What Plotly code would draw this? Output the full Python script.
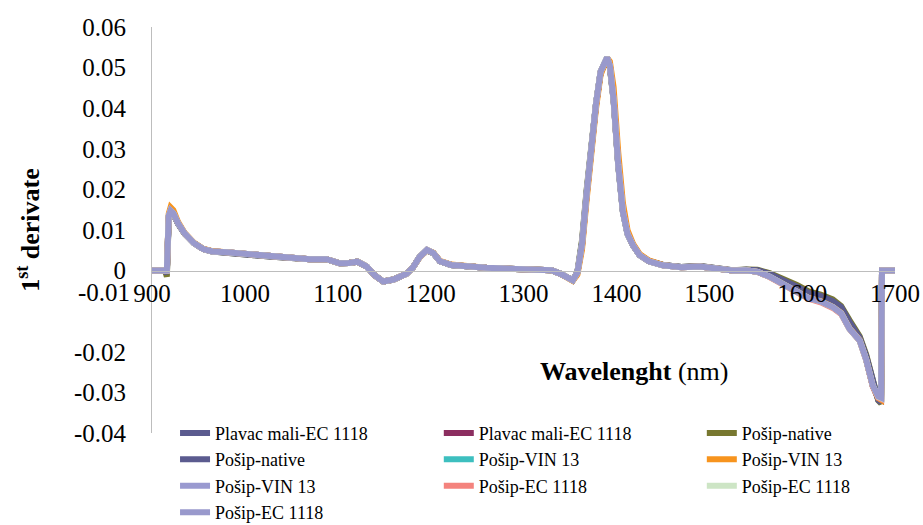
import plotly.graph_objects as go

# ---------------- data ----------------
wavelength = [900, 910, 914, 916, 918, 920, 923, 928, 935, 945, 955, 965, 980, 995, 1010, 1030, 1050, 1070,
              1088, 1102, 1112, 1121, 1131, 1140, 1149, 1160, 1174, 1181, 1188, 1196, 1203, 1210, 1222, 1239,
              1260, 1280, 1300, 1315, 1330, 1340, 1347, 1353, 1358, 1363, 1368, 1373, 1378, 1383, 1387, 1390,
              1393, 1397, 1402, 1407, 1412, 1418, 1425, 1435, 1450, 1470, 1490, 1510, 1525, 1540, 1552, 1565,
              1580, 1595, 1607, 1620, 1633, 1642, 1651, 1662, 1669, 1676, 1682, 1685, 1686, 1690, 1700]

plavac_ec_a = [0, 0, 0, 0, 0.0130, 0.0145, 0.0140, 0.0116, 0.0091, 0.0068, 0.0053, 0.0047, 0.0045, 0.0042, 0.0038,
               0.0034, 0.0030, 0.0028, 0.0028, 0.0018, 0.0019, 0.0022, 0.0010, -0.0012, -0.0027, -0.0022, -0.0008,
               0.0008, 0.0033, 0.0050, 0.0043, 0.0023, 0.0014, 0.0010, 0.0007, 0.0005, 0.0004, 0.0005, 0.0001,
               -0.0008, -0.0018, -0.0024, -0.0006, 0.0060, 0.0185, 0.0305, 0.0405, 0.0487, 0.0513, 0.0522, 0.0505,
               0.0425, 0.0265, 0.0150, 0.0092, 0.0063, 0.0039, 0.0024, 0.0014, 0.0009, 0.0010, 0.0004, 0.0000,
               0.0002, 0.0000, -0.0009, -0.0026, -0.0044, -0.0058, -0.0066, -0.0080, -0.0095, -0.0132, -0.0166,
               -0.0214, -0.0282, -0.0318, -0.0323, 0, 0, 0]
plavac_ec_b = [0, 0, 0, 0, 0.0133, 0.0147, 0.0141, 0.0117, 0.0092, 0.0068, 0.0053, 0.0047, 0.0045, 0.0042, 0.0038,
               0.0034, 0.0030, 0.0028, 0.0028, 0.0018, 0.0019, 0.0022, 0.0010, -0.0012, -0.0027, -0.0022, -0.0008,
               0.0008, 0.0033, 0.0051, 0.0043, 0.0023, 0.0014, 0.0010, 0.0007, 0.0005, 0.0004, 0.0005, 0.0001,
               -0.0008, -0.0018, -0.0024, -0.0005, 0.0063, 0.0188, 0.0308, 0.0408, 0.0489, 0.0514, 0.0523, 0.0505,
               0.0423, 0.0262, 0.0147, 0.0091, 0.0062, 0.0038, 0.0023, 0.0013, 0.0008, 0.0010, 0.0004, 0.0000,
               0.0001, -0.0003, -0.0014, -0.0032, -0.0050, -0.0066, -0.0074, -0.0088, -0.0103, -0.0141, -0.0171,
               -0.0219, -0.0284, -0.0314, -0.0318, 0, 0, 0]
posip_native_a = [0, 0, 0, -0.0015, 0.0125, 0.0142, 0.0139, 0.0116, 0.0091, 0.0068, 0.0053, 0.0047, 0.0045, 0.0042,
                  0.0038, 0.0034, 0.0030, 0.0028, 0.0028, 0.0018, 0.0019, 0.0022, 0.0010, -0.0012, -0.0027, -0.0022,
                  -0.0008, 0.0008, 0.0033, 0.0050, 0.0043, 0.0023, 0.0014, 0.0010, 0.0007, 0.0005, 0.0004, 0.0005,
                  0.0001, -0.0008, -0.0018, -0.0024, -0.0003, 0.0075, 0.0200, 0.0315, 0.0410, 0.0488, 0.0512, 0.0520,
                  0.0500, 0.0420, 0.0258, 0.0145, 0.0090, 0.0062, 0.0038, 0.0023, 0.0014, 0.0009, 0.0011, 0.0005,
                  0.0001, 0.0003, 0.0002, -0.0006, -0.0020, -0.0036, -0.0051, -0.0059, -0.0071, -0.0087, -0.0122,
                  -0.0162, -0.0207, -0.0273, -0.0320, -0.0327, 0, 0, 0]
posip_native_b = [0, 0, 0, -0.0008, 0.0128, 0.0144, 0.0140, 0.0116, 0.0091, 0.0068, 0.0053, 0.0047, 0.0045, 0.0042,
                  0.0038, 0.0034, 0.0030, 0.0028, 0.0028, 0.0018, 0.0019, 0.0022, 0.0010, -0.0012, -0.0027, -0.0022,
                  -0.0008, 0.0008, 0.0033, 0.0050, 0.0043, 0.0023, 0.0014, 0.0010, 0.0007, 0.0005, 0.0004, 0.0005,
                  0.0001, -0.0008, -0.0018, -0.0024, -0.0004, 0.0070, 0.0195, 0.0312, 0.0408, 0.0488, 0.0512, 0.0521,
                  0.0502, 0.0421, 0.0260, 0.0146, 0.0090, 0.0062, 0.0038, 0.0023, 0.0014, 0.0009, 0.0011, 0.0005,
                  0.0001, 0.0002, 0.0001, -0.0008, -0.0023, -0.0040, -0.0055, -0.0062, -0.0075, -0.0090, -0.0126,
                  -0.0165, -0.0210, -0.0276, -0.0319, -0.0325, 0, 0, 0]
posip_vin_a = [0, 0, 0, 0, 0.0135, 0.0149, 0.0142, 0.0117, 0.0092, 0.0068, 0.0053, 0.0047, 0.0045, 0.0042, 0.0038,
               0.0034, 0.0030, 0.0028, 0.0028, 0.0018, 0.0019, 0.0022, 0.0010, -0.0012, -0.0027, -0.0022, -0.0008,
               0.0008, 0.0033, 0.0051, 0.0043, 0.0023, 0.0014, 0.0010, 0.0007, 0.0005, 0.0004, 0.0005, 0.0001,
               -0.0008, -0.0018, -0.0024, -0.0005, 0.0065, 0.0190, 0.0310, 0.0410, 0.0490, 0.0515, 0.0525, 0.0507,
               0.0425, 0.0263, 0.0147, 0.0091, 0.0062, 0.0038, 0.0023, 0.0013, 0.0008, 0.0010, 0.0004, 0.0000,
               0.0001, -0.0003, -0.0015, -0.0033, -0.0052, -0.0068, -0.0076, -0.0090, -0.0105, -0.0143, -0.0172,
               -0.0220, -0.0283, -0.0311, -0.0315, 0, 0, 0]
posip_vin_b = [0, 0, 0, 0, 0.0140, 0.0156, 0.0149, 0.0120, 0.0093, 0.0069, 0.0054, 0.0048, 0.0045, 0.0042, 0.0038,
               0.0034, 0.0030, 0.0028, 0.0028, 0.0018, 0.0019, 0.0022, 0.0010, -0.0012, -0.0027, -0.0022, -0.0008,
               0.0008, 0.0032, 0.0050, 0.0044, 0.0024, 0.0015, 0.0010, 0.0007, 0.0005, 0.0004, 0.0005, 0.0001,
               -0.0008, -0.0018, -0.0025, -0.0010, 0.0052, 0.0175, 0.0295, 0.0398, 0.0482, 0.0512, 0.0524, 0.0515,
               0.0452, 0.0292, 0.0167, 0.0100, 0.0066, 0.0041, 0.0025, 0.0014, 0.0008, 0.0010, 0.0004, 0.0000,
               0.0001, -0.0003, -0.0015, -0.0033, -0.0052, -0.0067, -0.0075, -0.0089, -0.0104, -0.0142, -0.0171,
               -0.0219, -0.0283, -0.0314, -0.0318, 0, 0, 0]
posip_vin_c = [0, 0, 0, 0, 0.0135, 0.0148, 0.0141, 0.0117, 0.0092, 0.0068, 0.0053, 0.0047, 0.0045, 0.0042, 0.0038,
               0.0034, 0.0030, 0.0028, 0.0028, 0.0018, 0.0019, 0.0022, 0.0010, -0.0012, -0.0027, -0.0022, -0.0008,
               0.0008, 0.0033, 0.0051, 0.0043, 0.0023, 0.0014, 0.0010, 0.0007, 0.0005, 0.0004, 0.0005, 0.0001,
               -0.0008, -0.0018, -0.0024, -0.0005, 0.0065, 0.0190, 0.0310, 0.0410, 0.0490, 0.0515, 0.0525, 0.0505,
               0.0420, 0.0260, 0.0145, 0.0090, 0.0062, 0.0038, 0.0023, 0.0013, 0.0008, 0.0010, 0.0004, 0.0000,
               0.0001, -0.0003, -0.0015, -0.0033, -0.0052, -0.0068, -0.0076, -0.0090, -0.0105, -0.0143, -0.0172,
               -0.0220, -0.0283, -0.0310, -0.0313, 0, 0, 0]
posip_ec_a = [0, 0, 0, 0, 0.0134, 0.0148, 0.0141, 0.0117, 0.0092, 0.0068, 0.0053, 0.0047, 0.0045, 0.0042, 0.0038,
              0.0034, 0.0030, 0.0028, 0.0028, 0.0018, 0.0019, 0.0022, 0.0010, -0.0012, -0.0027, -0.0022, -0.0008,
              0.0008, 0.0033, 0.0051, 0.0043, 0.0023, 0.0014, 0.0010, 0.0007, 0.0005, 0.0004, 0.0005, 0.0001,
              -0.0008, -0.0018, -0.0024, -0.0005, 0.0064, 0.0189, 0.0309, 0.0409, 0.0490, 0.0515, 0.0524, 0.0506,
              0.0424, 0.0264, 0.0148, 0.0091, 0.0062, 0.0038, 0.0023, 0.0013, 0.0008, 0.0010, 0.0004, 0.0000,
              0.0001, -0.0003, -0.0016, -0.0034, -0.0053, -0.0069, -0.0078, -0.0092, -0.0107, -0.0144, -0.0173,
              -0.0221, -0.0285, -0.0313, -0.0316, 0, 0, 0]
posip_ec_b = [0, 0, 0, 0, 0.0135, 0.0148, 0.0141, 0.0117, 0.0092, 0.0068, 0.0053, 0.0047, 0.0045, 0.0042, 0.0038,
              0.0034, 0.0030, 0.0028, 0.0028, 0.0018, 0.0019, 0.0022, 0.0010, -0.0012, -0.0027, -0.0022, -0.0008,
              0.0008, 0.0033, 0.0051, 0.0043, 0.0023, 0.0014, 0.0010, 0.0007, 0.0005, 0.0004, 0.0005, 0.0001,
              -0.0008, -0.0018, -0.0024, -0.0005, 0.0065, 0.0190, 0.0310, 0.0410, 0.0490, 0.0515, 0.0525, 0.0505,
              0.0421, 0.0261, 0.0146, 0.0090, 0.0062, 0.0038, 0.0023, 0.0013, 0.0008, 0.0010, 0.0004, 0.0000,
              0.0001, -0.0003, -0.0015, -0.0033, -0.0052, -0.0068, -0.0076, -0.0090, -0.0105, -0.0143, -0.0172,
              -0.0220, -0.0283, -0.0311, -0.0314, 0, 0, 0]
posip_ec_c = [0, 0, 0, 0, 0.0135, 0.0148, 0.0141, 0.0117, 0.0092, 0.0068, 0.0053, 0.0047, 0.0045, 0.0042, 0.0038,
              0.0034, 0.0030, 0.0028, 0.0028, 0.0018, 0.0019, 0.0022, 0.0010, -0.0012, -0.0027, -0.0022, -0.0008,
              0.0008, 0.0033, 0.0051, 0.0043, 0.0023, 0.0014, 0.0010, 0.0007, 0.0005, 0.0004, 0.0005, 0.0001,
              -0.0008, -0.0018, -0.0024, -0.0005, 0.0065, 0.0190, 0.0310, 0.0410, 0.0490, 0.0515, 0.0525, 0.0505,
              0.0420, 0.0260, 0.0145, 0.0090, 0.0062, 0.0038, 0.0023, 0.0013, 0.0008, 0.0010, 0.0004, 0.0000,
              0.0001, -0.0003, -0.0015, -0.0033, -0.0052, -0.0068, -0.0076, -0.0090, -0.0105, -0.0143, -0.0172,
              -0.0220, -0.0283, -0.0310, -0.0313, 0, 0, 0]

series_names = ["Plavac mali-EC 1118", "Plavac mali-EC 1118", "Pošip-native", "Pošip-native",
                "Pošip-VIN 13", "Pošip-VIN 13", "Pošip-VIN 13", "Pošip-EC 1118", "Pošip-EC 1118", "Pošip-EC 1118"]
series_values = [plavac_ec_a, plavac_ec_b, posip_native_a, posip_native_b, posip_vin_a,
                 posip_vin_b, posip_vin_c, posip_ec_a, posip_ec_b, posip_ec_c]
series_colors = ["#5B5B8F", "#8C2E60", "#787830", "#5B5B8F", "#3DBFBF",
                 "#F7941E", "#9A9AD0", "#F4837D", "#CDE5C5", "#9999CC"]
legend_column = ["legend", "legend2", "legend3", "legend", "legend2",
                 "legend3", "legend", "legend2", "legend3", "legend"]

x_tickvals = [900, 1000, 1100, 1200, 1300, 1400, 1500, 1600, 1700]
x_ticktext = ["900", "1000", "1100", "1200", "1300", "1400", "1500", "1600", "1700"]
y_tickvals = [-0.04, -0.03, -0.02, 0, 0.01, 0.02, 0.03, 0.04, 0.05, 0.06]
y_ticktext = ["-0.04", "-0.03", "-0.02", "0", "0.01", "0.02", "0.03", "0.04", "0.05", "0.06"]
# the "-0.01" label sits up against the category labels in the reference
y_shifted_label = "-0.01"
y_shifted_label_pos = -0.0054

FONT = "Liberation Serif, Times New Roman, serif"
TICK_SIZE = 25

fig = go.Figure()
for name, vals, col, lg in zip(series_names, series_values, series_colors, legend_column):
    fig.add_trace(go.Scatter(x=wavelength, y=vals, mode="lines", name=name,
                             line=dict(color=col, width=6), legend=lg))

legend_common = dict(orientation="v", xanchor="left", yanchor="top", y=0.045,
                     bgcolor="rgba(0,0,0,0)", font=dict(family=FONT, size=18, color="black"),
                     itemwidth=30)

fig.update_layout(
    width=923, height=525,
    margin=dict(l=152, r=28, t=27, b=92, autoexpand=False),
    paper_bgcolor="white", plot_bgcolor="white",
    font=dict(family=FONT, color="black"),
    showlegend=True,
    legend=dict(x=0.031, **legend_common),
    legend2=dict(x=0.386, **legend_common),
    legend3=dict(x=0.740, **legend_common),
    xaxis=dict(range=[900, 1700], tickvals=x_tickvals, ticktext=x_ticktext,
               anchor="free", position=0.4, showline=True, linecolor="#BDBDBD", linewidth=1,
               showgrid=False, zeroline=False, ticks="",
               tickfont=dict(family=FONT, size=TICK_SIZE, color="black")),
    yaxis=dict(range=[-0.04, 0.06], tickvals=y_tickvals, ticktext=y_ticktext,
               showline=True, linecolor="#BDBDBD", linewidth=1, showgrid=False, zeroline=False,
               ticks="", ticklabelstandoff=20,
               tickfont=dict(family=FONT, size=TICK_SIZE, color="black"),
               title=dict(text="<b>1<sup>st</sup> derivate</b>", standoff=26,
                          font=dict(family=FONT, size=26, color="black"))),
    annotations=[
        dict(x=1420, y=-0.0249, xref="x", yref="y", showarrow=False,
             text="<b>Wavelenght</b> (nm)",
             font=dict(family=FONT, size=26, color="black")),
        dict(x=0, y=y_shifted_label_pos, xref="paper", yref="y", xanchor="right",
             xshift=-20, showarrow=False, text=y_shifted_label,
             font=dict(family=FONT, size=TICK_SIZE, color="black")),
    ],
)

fig.write_html("out.html")
